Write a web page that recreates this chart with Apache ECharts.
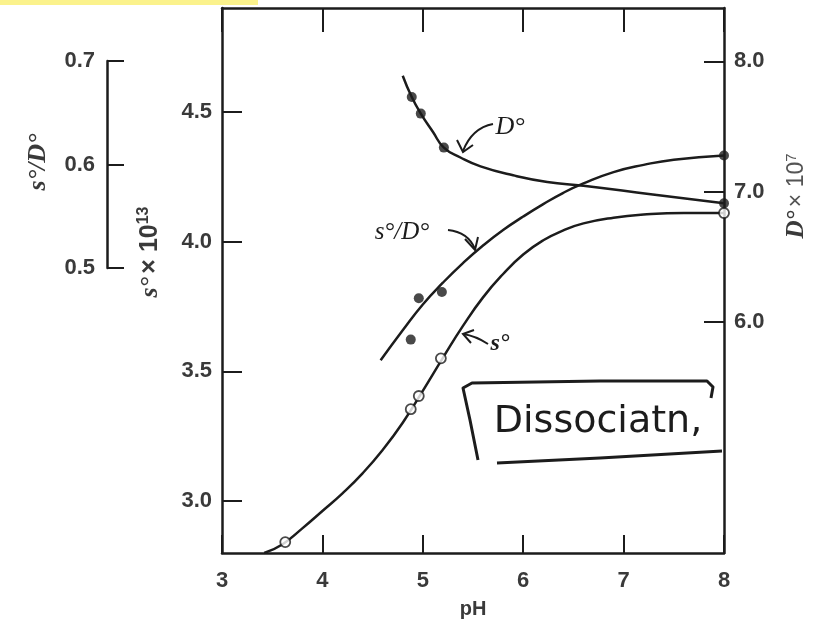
<!DOCTYPE html>
<html>
<head>
<meta charset="utf-8">
<title>s°, D° and s°/D° vs pH</title>
<script src="https://cdn.jsdelivr.net/npm/echarts@6/dist/echarts.min.js"></script>
<style>
  html, body { margin: 0; padding: 0; background: #fff; }
  #chart { width: 814px; height: 623px; }
</style>
</head>
<body>
<div id="chart"></div>
<script>
// curve s° (x 10^13), left axis
var sCurvePH  = [3.42, 3.6, 3.8, 4.0, 4.2, 4.4, 4.6, 4.8, 5.0, 5.2, 5.4, 5.6, 5.8, 6.0, 6.2, 6.4, 6.6, 6.9, 7.2, 7.6, 8.0];
var sCurveVal = [2.80, 2.833, 2.895, 2.962, 3.03, 3.107, 3.197, 3.302, 3.425, 3.552, 3.675, 3.785, 3.875, 3.95, 4.005, 4.043, 4.07, 4.092, 4.104, 4.11, 4.11];
// open circles on s°
var sPointPH  = [3.63, 4.88, 4.96, 5.18, 8.0];
var sPointVal = [2.842, 3.354, 3.405, 3.55, 4.11];

// curve D° (x 10^7), right axis
var dCurvePH  = [4.80, 4.89, 4.98, 5.1, 5.21, 5.375, 5.575, 5.9, 6.24, 6.6, 7.27, 8.0];
var dCurveVal = [7.89, 7.726, 7.599, 7.46, 7.338, 7.262, 7.194, 7.125, 7.074, 7.045, 6.98, 6.91];
var dPointPH  = [4.89, 4.98, 5.21, 8.0];
var dPointVal = [7.726, 7.599, 7.338, 6.91];

// curve s°/D°, bracket axis at far left
var rCurvePH  = [4.58, 4.8, 5.0, 5.2, 5.4, 5.6, 5.8, 6.0, 6.2, 6.4, 6.6, 6.9, 7.2, 7.5, 8.0];
var rCurveVal = [0.411, 0.440, 0.465, 0.486, 0.505, 0.522, 0.537, 0.550, 0.562, 0.573, 0.582, 0.593, 0.600, 0.605, 0.609];
var rPointPH  = [4.88, 4.96, 5.19, 8.0];
var rPointVal = [0.431, 0.471, 0.477, 0.609];

var phTicks = [3, 4, 5, 6, 7, 8];
var sTicks = [3.0, 3.5, 4.0, 4.5];
var dTicks = [6.0, 7.0, 8.0];
var rTicks = [0.5, 0.6, 0.7];

function zip(a, b) {
    var out = [];
    for (var i = 0; i < a.length; i++) out.push([a[i], b[i]]);
    return out;
}

var INK = '#1c1c1c';
var LBL = '#3a3a3a';
var lblFont = {fontFamily: 'Liberation Sans', fontSize: 22, fontWeight: 'bold', color: LBL};
var serif = 'Liberation Serif';

var chart = echarts.init(document.getElementById('chart'));

var lineStyle = {color: INK, width: 2.5};
var axisLine = {show: true, lineStyle: {color: INK, width: 2.5}};

var option = {
    animation: false,
    backgroundColor: '#fff',
    grid: [
        {left: 222, top: 8, width: 502, height: 545, outerBoundsMode: 'none'},
        {left: 107, top: 61, width: 2, height: 207, outerBoundsMode: 'none'}
    ],
    xAxis: [
        {
            gridIndex: 0, type: 'value', position: 'bottom',
            min: 3, max: 8, interval: 1,
            axisLine: axisLine,
            axisTick: {inside: true, length: 18, lineStyle: {color: INK, width: 2}},
            axisLabel: Object.assign({margin: 17}, lblFont),
            splitLine: {show: false},
            name: 'pH', nameLocation: 'middle', nameGap: 46,
            nameTextStyle: {fontFamily: 'Liberation Sans', fontSize: 20, fontWeight: 'bold', color: LBL}
        },
        {
            gridIndex: 0, type: 'value', position: 'top',
            min: 3, max: 8, interval: 1,
            axisLine: axisLine,
            axisTick: {inside: true, length: 24, lineStyle: {color: INK, width: 2}},
            axisLabel: {show: false},
            splitLine: {show: false}
        },
        {gridIndex: 1, type: 'value', show: false, min: 0, max: 1}
    ],
    yAxis: [
        {
            gridIndex: 0, type: 'value', position: 'left',
            min: 2.8, max: 4.9,
            axisLine: axisLine,
            axisTick: {inside: true, length: 20, customValues: sTicks, lineStyle: {color: INK, width: 2}},
            axisLabel: Object.assign({margin: 10, customValues: sTicks, formatter: function (v) { return v.toFixed(1); }}, lblFont),
            splitLine: {show: false}
        },
        {
            gridIndex: 0, type: 'value', position: 'right',
            min: 4.225, max: 8.41,
            axisLine: axisLine,
            axisTick: {inside: true, length: 20, customValues: dTicks, lineStyle: {color: INK, width: 2}},
            axisLabel: Object.assign({margin: 10, customValues: dTicks, formatter: function (v) { return v.toFixed(1); }}, lblFont),
            splitLine: {show: false}
        },
        {
            // hidden scale for the s°/D° curve, same px per unit as the bracket
            gridIndex: 0, type: 'value', show: false,
            min: 0.2246, max: 0.7517
        },
        {
            gridIndex: 1, type: 'value', position: 'left',
            min: 0.5, max: 0.7, interval: 0.1,
            axisLine: {show: true, lineStyle: {color: INK, width: 2.5}},
            axisTick: {inside: true, length: 17, lineStyle: {color: INK, width: 2}},
            axisLabel: Object.assign({margin: 12, formatter: function (v) { return v.toFixed(1); }}, lblFont),
            splitLine: {show: false}
        }
    ],
    series: [
        {
            name: 's°', type: 'line', xAxisIndex: 0, yAxisIndex: 0,
            data: zip(sCurvePH, sCurveVal), smooth: 0.5, showSymbol: false,
            lineStyle: lineStyle, z: 2
        },
        {
            name: 'D°', type: 'line', xAxisIndex: 0, yAxisIndex: 1,
            data: zip(dCurvePH, dCurveVal), smooth: 0.5, showSymbol: false,
            lineStyle: lineStyle, z: 2
        },
        {
            name: 's°/D°', type: 'line', xAxisIndex: 0, yAxisIndex: 2,
            data: zip(rCurvePH, rCurveVal), smooth: 0.5, showSymbol: false,
            lineStyle: lineStyle, z: 2
        },
        {
            name: 's° pts', type: 'scatter', xAxisIndex: 0, yAxisIndex: 0,
            data: zip(sPointPH, sPointVal), symbol: 'circle', symbolSize: 10,
            itemStyle: {color: '#fff', borderColor: INK, borderWidth: 1.8}, z: 4
        },
        {
            name: 'D° pts', type: 'scatter', xAxisIndex: 0, yAxisIndex: 1,
            data: zip(dPointPH, dPointVal), symbol: 'circle', symbolSize: 10,
            itemStyle: {color: INK}, z: 4
        },
        {
            name: 's°/D° pts', type: 'scatter', xAxisIndex: 0, yAxisIndex: 2,
            data: zip(rPointPH, rPointVal), symbol: 'circle', symbolSize: 10,
            itemStyle: {color: INK}, z: 4
        }
    ],
    graphic: [
        // yellow highlight strip from the scan
        {type: 'rect', shape: {x: 0, y: 0, width: 258, height: 5}, style: {fill: '#fbf28c'}, silent: true},

        // axis titles
        {
            type: 'text', x: 38, y: 162, rotation: Math.PI / 2,
            style: {text: 's°/D°', align: 'center', verticalAlign: 'middle',
                font: 'italic bold 26px "Liberation Serif"', fill: LBL}
        },
        {
            type: 'text', x: 150, y: 252, rotation: Math.PI / 2,
            style: {
                text: '{i|s°} {n|× 10}{sup|13}', align: 'center', verticalAlign: 'middle',
                rich: {
                    i: {fontFamily: serif, fontStyle: 'italic', fontWeight: 'bold', fontSize: 26, fill: LBL},
                    n: {fontFamily: 'Liberation Sans', fontWeight: 'bold', fontSize: 25, fill: LBL},
                    sup: {fontFamily: 'Liberation Sans', fontWeight: 'bold', fontSize: 16, fill: LBL, verticalAlign: 'top', padding: [0, 0, 12, 0]}
                }
            }
        },
        {
            type: 'text', x: 797, y: 196, rotation: Math.PI / 2,
            style: {
                text: '{i|D°} {n|× 10}{sup|7}', align: 'center', verticalAlign: 'middle',
                rich: {
                    i: {fontFamily: serif, fontStyle: 'italic', fontWeight: 'bold', fontSize: 25, fill: LBL},
                    n: {fontFamily: 'Liberation Sans', fontSize: 23, fill: '#555'},
                    sup: {fontFamily: 'Liberation Sans', fontSize: 15, fill: '#555', verticalAlign: 'top', padding: [0, 0, 11, 0]}
                }
            }
        },

        // curve labels with arrows
        {
            type: 'text', x: 510, y: 127,
            style: {text: 'D°', align: 'center', verticalAlign: 'middle',
                font: 'italic 26px "Liberation Serif"', fill: INK}
        },
        {
            type: 'bezierCurve', shape: {x1: 493, y1: 124, x2: 463, y2: 151, cpx1: 472, cpy1: 128},
            style: {stroke: INK, lineWidth: 2, fill: null}
        },
        {type: 'polyline', shape: {points: [[457, 140], [463, 152], [473, 145]]}, style: {stroke: INK, lineWidth: 2, fill: null}},

        {
            type: 'text', x: 402, y: 232,
            style: {text: 's°/D°', align: 'center', verticalAlign: 'middle',
                font: 'italic 25px "Liberation Serif"', fill: INK}
        },
        {
            type: 'bezierCurve', shape: {x1: 448, y1: 230, x2: 475, y2: 249, cpx1: 468, cpy1: 232},
            style: {stroke: INK, lineWidth: 2, fill: null}
        },
        {type: 'polyline', shape: {points: [[465, 239], [475, 250], [478, 237]]}, style: {stroke: INK, lineWidth: 2, fill: null}},

        {
            type: 'text', x: 500, y: 344,
            style: {text: 's°', align: 'center', verticalAlign: 'middle',
                font: 'italic bold 24px "Liberation Serif"', fill: INK}
        },
        {
            type: 'bezierCurve', shape: {x1: 488, y1: 344, x2: 463, y2: 334, cpx1: 476, cpy1: 336},
            style: {stroke: INK, lineWidth: 2, fill: null}
        },
        {type: 'polyline', shape: {points: [[474, 330], [463, 334], [471, 343]]}, style: {stroke: INK, lineWidth: 2, fill: null}},

        // handwritten note
        {
            type: 'polyline',
            shape: {points: [[478, 460], [470, 420], [463, 388], [472, 383], [600, 381], [707, 381], [713, 387], [711, 398]]},
            style: {stroke: INK, lineWidth: 3, fill: null, lineJoin: 'round'}
        },
        {
            type: 'polyline',
            shape: {points: [[497, 463], [600, 458], [722, 451]]},
            style: {stroke: INK, lineWidth: 3, fill: null}
        },
        {
            type: 'text', x: 598, y: 422,
            style: {text: 'Dissociatn,', align: 'center', verticalAlign: 'middle',
                font: '38px "DejaVu Sans"', fill: INK}
        }
    ]
};

chart.setOption(option);
</script>
</body>
</html>
